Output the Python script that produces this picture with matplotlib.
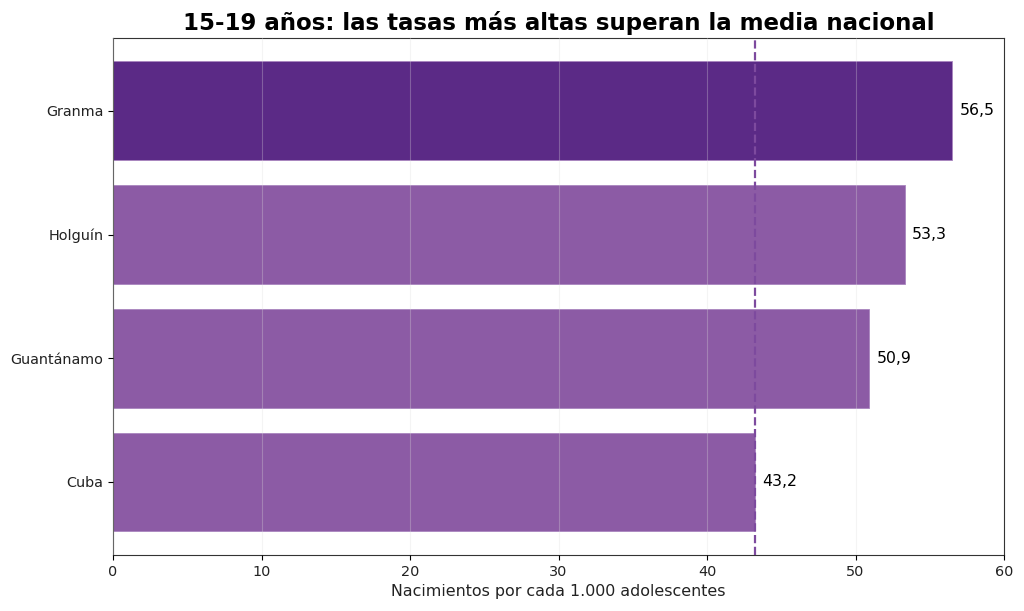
import matplotlib.pyplot as plt

regiones = ['Granma', 'Holguín', 'Guantánamo', 'Cuba']
tasas = [56.5, 53.3, 50.9, 43.2]
media_nacional = 43.2

fig = plt.figure(figsize=(10.24, 6.11), dpi=100)
ax = fig.add_axes([0.1104, 0.0917, 0.8701, 0.8462])

colores = ['#5b2a86' if i == 0 else '#8c5ba5' for i in range(len(regiones))]
y = list(range(len(regiones)))
bars = ax.barh(y, tasas, height=0.8, color=colores, edgecolor='#a985bf', linewidth=0.6, zorder=2)
ax.invert_yaxis()
ax.set_yticks(y)
ax.set_yticklabels(regiones, fontsize=10.4, color='#222222')
ax.set_xlim(0, 60)
ax.tick_params(axis='x', labelsize=10.4, labelcolor='#222222')
for s in ax.spines.values():
    s.set_color('#333333')

ax.axvline(media_nacional, color='#7d4a9e', linestyle='--', linewidth=1.6, zorder=3)
ax.grid(axis='x', color='#dddddd', alpha=0.3, linewidth=0.8, zorder=2.5)
ax.set_axisbelow(False)

for b, v in zip(bars, tasas):
    ax.text(b.get_width() + 0.5, b.get_y() + b.get_height() / 2,
            ('%.1f' % v).replace('.', ','), va='center', ha='left', fontsize=11.3)

ax.set_xlabel('Nacimientos por cada 1.000 adolescentes', fontsize=11.4, color='#222222')
ax.set_title('15-19 años: las tasas más altas superan la media nacional',
             fontsize=16.5, fontweight='bold')

plt.savefig('out.png', dpi=100)
